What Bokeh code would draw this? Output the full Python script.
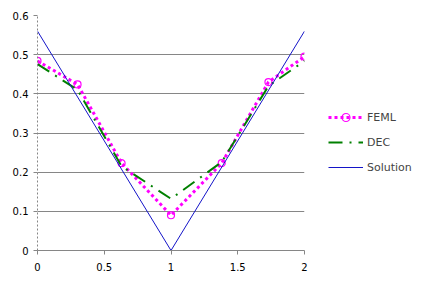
from bokeh.plotting import figure
from bokeh.models import Legend, LegendItem, FixedTicker, Range1d
from bokeh.embed import file_html
from bokeh.resources import INLINE

x_nodes = [0, 0.3, 0.63, 1.0, 1.38, 1.73, 2.0]
feml = [0.484, 0.424, 0.223, 0.090, 0.223, 0.430, 0.495]
dec = [0.476, 0.41, 0.215, 0.132, 0.226, 0.42, 0.484]
sol_x = [0, 1, 2]
sol_y = [0.56, 0.0, 0.56]
x_ticks = [0, 0.5, 1, 1.5, 2]
x_labels = ["0", "0.5", "1", "1.5", "2"]
y_ticks = [0, 0.1, 0.2, 0.3, 0.4, 0.5, 0.6]
y_labels = ["0", "0.1", "0.2", "0.3", "0.4", "0.5", "0.6"]

p = figure(frame_width=267, frame_height=235, output_backend="svg", toolbar_location=None,
           x_range=Range1d(0, 2), y_range=Range1d(0, 0.6),
           min_border_left=37, min_border_top=15, min_border_bottom=32, min_border_right=120)
p.outline_line_color = None
p.background_fill_color = "white"
p.border_fill_color = "white"

p.xgrid.grid_line_color = None
p.ygrid.grid_line_color = "#868686"
p.ygrid.grid_line_width = 1

for ax, ticks, labels in ((p.xaxis[0], x_ticks, x_labels), (p.yaxis[0], y_ticks, y_labels)):
    ax.ticker = FixedTicker(ticks=ticks)
    ax.major_label_overrides = {t: l for t, l in zip(ticks, labels)}
    ax.minor_tick_line_color = None
    ax.major_tick_in = 0
    ax.major_tick_out = 4
    ax.major_tick_line_color = "#868686"
    ax.axis_line_color = "#868686"
    ax.major_label_text_font = "DejaVu Sans"
    ax.major_label_text_font_size = "10px"
    ax.major_label_text_color = "#000000"
p.yaxis[0].major_label_standoff = 5
p.xaxis[0].major_label_standoff = 8
p.yaxis[0].axis_line_dash = "2 2"

r_f = p.line(x_nodes, feml, line_color="#FF00FF", line_width=3, line_dash="3 3")
r_fm = p.scatter(x_nodes, feml, marker="circle", size=7, fill_color=None,
                 line_color="#FF00FF", line_width=1.2)
r_d = p.line(x_nodes, dec, line_color="#008000", line_width=2, line_dash="14 7 2 7")
r_s = p.line(sol_x, sol_y, line_color="#1414C8", line_width=1)

legend = Legend(items=[LegendItem(label="FEML", renderers=[r_f, r_fm]),
                       LegendItem(label="DEC", renderers=[r_d]),
                       LegendItem(label="Solution", renderers=[r_s])],
                location=(24, 73), border_line_color=None,
                background_fill_color=None, glyph_width=35, glyph_height=20,
                label_standoff=4, spacing=5, padding=0, margin=0,
                label_text_font="DejaVu Sans", label_text_font_size="11px")
p.add_layout(legend, "right")

open("out.html", "w").write(file_html(p, INLINE))
